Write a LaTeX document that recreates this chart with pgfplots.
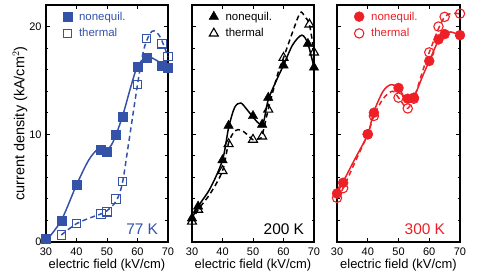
\documentclass[border=0pt]{standalone}
\usepackage{fontspec}
\setmainfont{Liberation Sans}
\usepackage{pgfplots}
\pgfplotsset{compat=1.18}
\definecolor{cblue}{RGB}{52,82,168}
\definecolor{cred}{RGB}{236,32,38}
\pgfplotsset{
  panel/.style={
    scale only axis, width=122bp, height=237bp, anchor=south west,
    xmin=30, xmax=70, ymin=0, ymax=22,
    xtick={30,40,...,70}, ytick={0,10,20}, minor ytick={2,4,...,22},
    tick align=inside, major tick length=4bp, minor tick length=2.5bp,
    axis line style={line width=1.3pt}, tick style={line width=1pt, black},
    every tick label/.append style={font=\fontsize{11}{12}\selectfont},
    xticklabel style={yshift=-2bp},
    /pgf/number format/assume math mode=true,
    xlabel={electric field (kV/cm)},
    label style={font=\fontsize{13}{14}\selectfont},
    xlabel style={yshift=3bp},
    legend style={at={(axis description cs:0.13,0.985)}, anchor=north west, draw=none, fill=none,
      font=\fontsize{11.5}{13}\selectfont, row sep=3bp, inner sep=1bp,
      /tikz/every odd column/.append style={column sep=5bp}},
    legend cell align=left,
    clip=false,
  },
  fit/.style={line width=1.5pt, smooth, tension=0.5, no marks},
  dfit/.style={line width=1.5pt, smooth, tension=0.5, no marks, dash pattern=on 5bp off 3.5bp},
}
\begin{document}
\begin{tikzpicture}
\useasboundingbox (0,0) rectangle (477bp,277bp);
% ---------- 77 K ----------
\begin{axis}[panel, at={(46bp,35bp)},
  ylabel={current density (kA/cm$^2$)}, ylabel style={yshift=-5bp, font=\fontsize{14.5}{15}\selectfont},
  yticklabel style={xshift=-1bp},
  legend style={text=cblue}]
\addlegendimage{only marks, mark=square*, mark size=4.5bp, cblue}
\addlegendentry{nonequil.}
\addlegendimage{only marks, mark=square, mark size=4.2bp, cblue, line width=1.1pt}
\addlegendentry{thermal}
\addplot[fit, cblue] coordinates {(30,0.1) (35,2.0) (40,5.3) (44,7.6) (47,8.6) (50,8.6) (52,9.3) (55,11.6) (58,14.6) (60,16.3) (63,17.2) (66,16.9) (70,16.1)};
\addplot[dfit, cblue] coordinates {(35,0.65) (40,1.7) (45,2.3) (48,2.6) (50,2.9) (53,3.8) (55,5.4) (57,9) (60,14.6) (62,17.8) (64,19.3) (65.5,19.6) (67.5,19.0) (70,17.2)};
\addplot[only marks, mark=square*, mark size=4.5bp, cblue] coordinates {(30,0.3) (35,2.0) (40,5.3) (48,8.6) (50,8.4) (53,10.0) (55,11.6) (60,16.3) (63,17.1) (68,16.4) (70,16.2)};
\addplot[only marks, mark=square, mark size=4.2bp, cblue, line width=1.1pt] coordinates {(35,0.65) (40,1.7) (48,2.6) (50,2.8) (53,4.0) (55,5.6) (60,14.6) (63,18.9) (68,18.4) (70,17.2)};
\node[anchor=south east, text=cblue, font=\fontsize{15.5}{16}\selectfont, inner sep=0pt] at (axis description cs:0.92,0.03) {77 K};
\end{axis}
% ---------- 200 K ----------
\begin{axis}[panel, at={(192bp,35bp)}, yticklabels={}]
\addlegendimage{only marks, mark=triangle*, mark size=5.5bp, black}
\addlegendentry{nonequil.}
\addlegendimage{only marks, mark=triangle, mark size=5.2bp, black, line width=1.1pt}
\addlegendentry{thermal}
\addplot[fit, black] coordinates {(30,2.2) (32,3.3) (36,5) (40,7.6) (42,10.6) (44,12.5) (46,12.9) (48,12.3) (50,11.6) (52,11) (53.5,11.2) (55,13.2) (58,15.2) (60,16.4) (63,18.3) (66,19.2) (68,18.4) (70,16.2)};
\addplot[dfit, black] coordinates {(30,1.9) (32,3) (36,4.5) (40,6.6) (42,9.2) (44,10.3) (46,10.4) (48,10) (50,9.5) (52,9.6) (53,9.9) (55,12.3) (58,15.5) (60,17.1) (63,19.5) (65.5,21.3) (67,20.9) (68.5,20.2) (70,17.6)};
\addplot[only marks, mark=triangle*, mark size=5.5bp, black] coordinates {(30,2.2) (32,3.3) (40,7.6) (42,10.8) (50,11.7) (53,10.9) (55,13.4) (60,16.4) (68,18.4) (70,16.2)};
\addplot[only marks, mark=triangle, mark size=5.2bp, black, line width=1.1pt] coordinates {(30,1.9) (32,3.0) (40,6.6) (42,9.1) (50,9.5) (53,9.8) (55,12.3) (60,17.1) (68.5,20.2) (70,17.6)};
\node[anchor=south east, text=black, font=\fontsize{15.5}{16}\selectfont, inner sep=0pt] at (axis description cs:0.92,0.03) {200 K};
\end{axis}
% ---------- 300 K ----------
\begin{axis}[panel, at={(337bp,35bp)}, width=123bp, yticklabels={}, legend style={text=cred}]
\addlegendimage{only marks, mark=*, mark size=5bp, cred}
\addlegendentry{nonequil.}
\addlegendimage{only marks, mark=o, mark size=4.7bp, cred, line width=1.1pt}
\addlegendentry{thermal}
\addplot[fit, cred] coordinates {(30,4.5) (32,5.6) (36,7.8) (40,10) (42,12.1) (45,14) (47.5,14.6) (50,14.3) (52,13.4) (54,13.2) (55,13.4) (58,15.5) (60,16.8) (63,18.7) (65,19.3) (67,19.5) (70,19.2)};
\addplot[dfit, cred] coordinates {(30,4.1) (32,5) (36,7.5) (40,10) (42,11.7) (45,13.3) (48,14) (50,13.4) (52,12.6) (53,12.4) (55,13.3) (58,16) (60,17.6) (63,19.8) (65,20.9) (67,21.2) (70,21.2)};
\addplot[only marks, mark=*, mark size=5bp, cred] coordinates {(30,4.5) (32,5.5) (40,10.0) (42,12.0) (50,14.3) (53,13.3) (55,13.4) (60,16.8) (63,18.8) (65,19.3) (70,19.2)};
\addplot[only marks, mark=o, mark size=4.7bp, cred, line width=1.1pt] coordinates {(30,4.1) (32,5.0) (40,10.0) (42,11.7) (50,13.4) (53,12.4) (55,13.3) (60,17.6) (63,20.0) (65,20.9) (70,21.2)};
\node[anchor=south east, text=cred, font=\fontsize{15.5}{16}\selectfont, inner sep=0pt] at (axis description cs:0.88,0.03) {300 K};
\end{axis}
\end{tikzpicture}
\end{document}
